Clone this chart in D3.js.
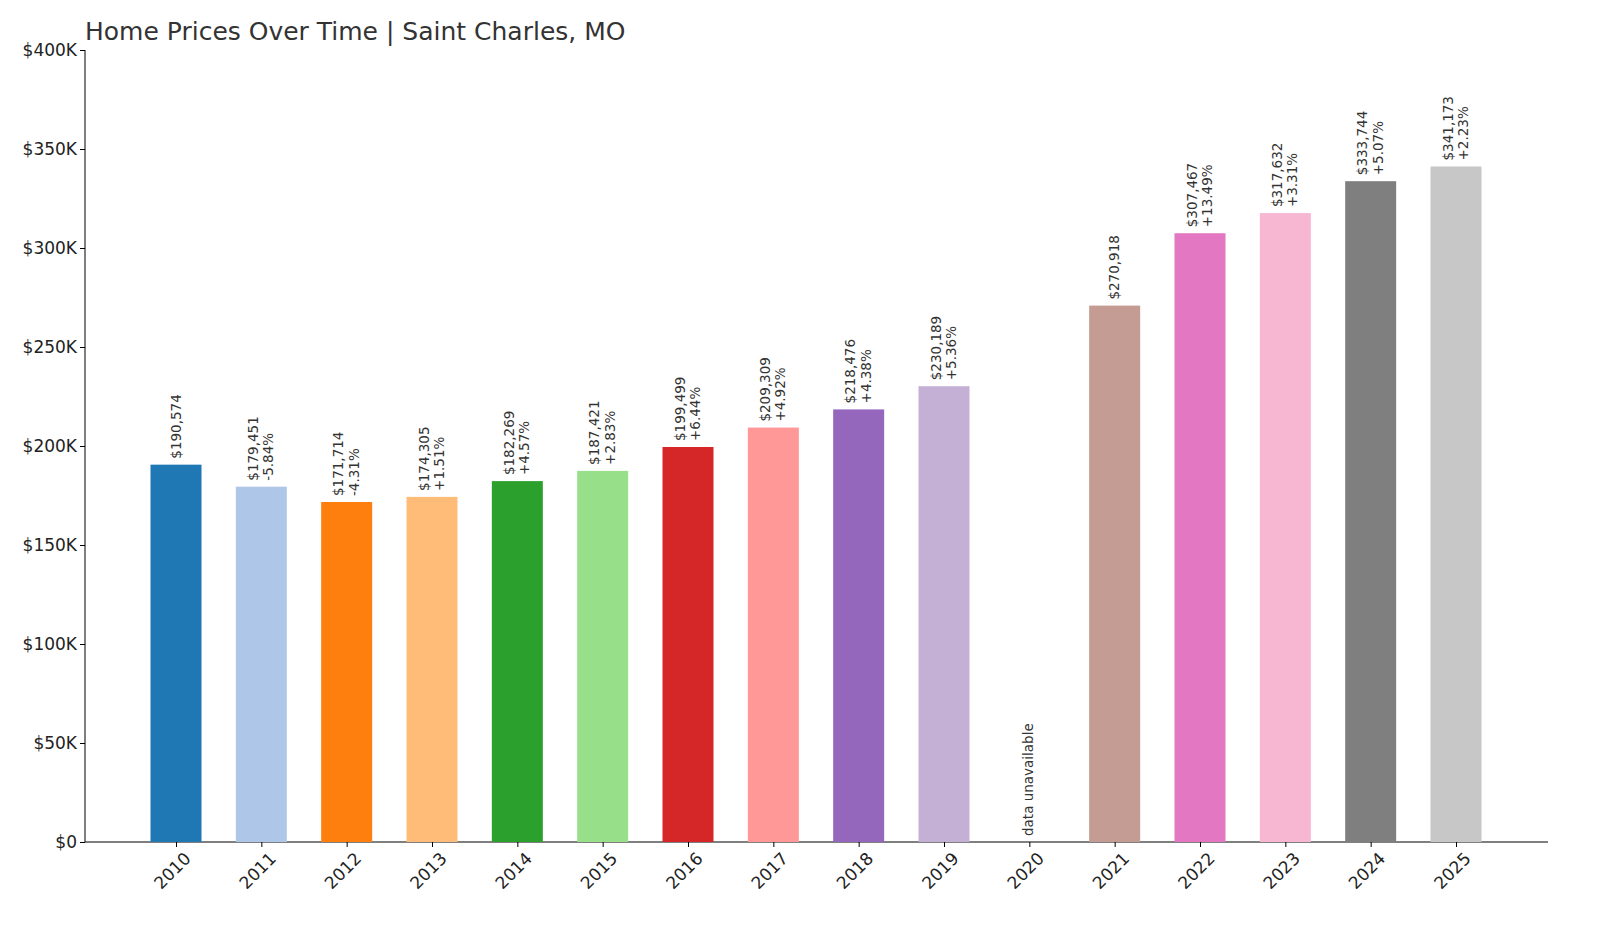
<!DOCTYPE html>
<html><head><meta charset="utf-8">
<script src="https://cdn.jsdelivr.net/npm/d3@7"></script>
<style>body{margin:0;background:#fff;font-family:"DejaVu Sans",sans-serif}</style>
</head><body><svg id="c" width="1600" height="933"></svg>
<script>
const years=[2010,2011,2012,2013,2014,2015,2016,2017,2018,2019,2020,2021,2022,2023,2024,2025];
const values=[190574,179451,171714,174305,182269,187421,199499,209309,218476,230189,null,270918,307467,317632,333744,341173];
const changes=["","-5.84%","-4.31%","+1.51%","+4.57%","+2.83%","+6.44%","+4.92%","+4.38%","+5.36%","","","+13.49%","+3.31%","+5.07%","+2.23%"];
const colors=["#1f77b4","#aec7e8","#ff7f0e","#ffbb78","#2ca02c","#98df8a","#d62728","#ff9896","#9467bd","#c5b0d5","#8c564b","#c49c94","#e377c2","#f7b6d2","#7f7f7f","#c7c7c7"];
const yTicks=[0,50000,100000,150000,200000,250000,300000,350000,400000];
const svg=d3.select("#c");
const x=d3.scaleLinear().domain([2010,2025]).range([176,1456]);
const y=d3.scaleLinear().domain([0,400000]).range([842,50]);
const bw=51;
svg.append("text").attr("x",85).attr("y",40).attr("font-size",25).attr("fill","#333").text("Home Prices Over Time | Saint Charles, MO");
const ya=svg.append("g").attr("transform","translate(85,0)").call(d3.axisLeft(y).tickValues(yTicks).tickFormat(d=>"$"+(d/1000)+(d?"K":"")).tickSize(5));
ya.selectAll("text").attr("font-size",17).attr("fill","#222").attr("font-family","DejaVu Sans");
ya.select(".domain").attr("d","M0,50V842");
const xa=svg.append("g").attr("transform","translate(0,842)").call(d3.axisBottom(x).tickValues(years).tickFormat(d=>d).tickSize(5));
xa.select(".domain").attr("d","M85,0H1548");
xa.selectAll("text").attr("font-size",17).attr("fill","#222").attr("font-family","DejaVu Sans")
  .attr("text-anchor","end").attr("dx","-0.1em").attr("dy","0.9em").attr("transform","rotate(-45)");
years.forEach((yr,i)=>{
  const v=values[i], cx=x(yr);
  if(v==null){
    svg.append("text").attr("transform",`translate(${cx+4},836) rotate(-90)`).attr("font-size",13.5).attr("fill","#333").text("data unavailable");
    return;
  }
  svg.append("rect").attr("x",cx-bw/2).attr("y",y(v)).attr("width",bw).attr("height",842-y(v)).attr("fill",colors[i]);
  const t=svg.append("text").attr("transform",`translate(${cx},${y(v)-6}) rotate(-90)`).attr("font-size",13.5).attr("fill","#333");
  const lab="$"+d3.format(",")(v);
  if(changes[i]){
    t.append("tspan").attr("x",0).attr("dy","-0.25em").text(lab);
    t.append("tspan").attr("x",0).attr("dy","1.15em").text(changes[i]);
  } else t.append("tspan").attr("x",0).attr("dy","0.35em").text(lab);
});
</script></body></html>
